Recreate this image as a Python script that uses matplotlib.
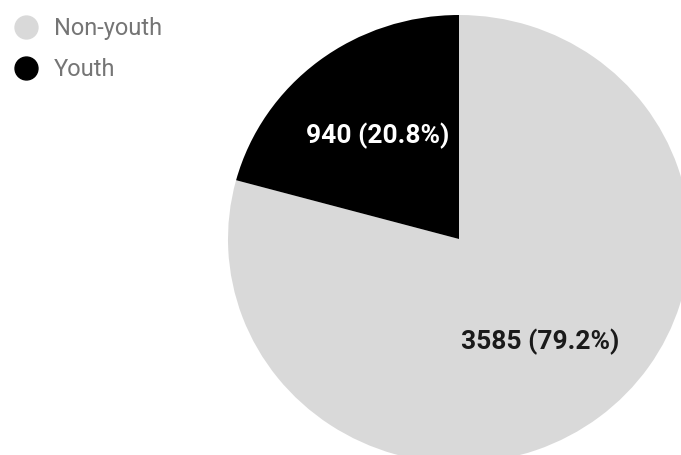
import matplotlib.pyplot as plt
from matplotlib.lines import Line2D

# datos del gráfico
labels = ['Non-youth', 'Youth']
counts = [3585, 940]
colors = ['#d9d9d9', '#000000']
text_colors = ['#1a1a1a', '#ffffff']

plt.rcParams['font.family'] = ['Roboto', 'DejaVu Sans']

W, H = 681, 455
fig = plt.figure(figsize=(W / 100, H / 100), dpi=100)
ax = fig.add_axes([0, 0, 1, 1])

total = sum(counts)
wedges, texts, autotexts = ax.pie(
    counts, colors=colors, startangle=90, counterclock=False,
    autopct=lambda p: '{:d} ({:.1f}%)'.format(int(round(p * total / 100)), p),
    pctdistance=0.58, wedgeprops=dict(linewidth=0),
    textprops=dict(fontsize=19, fontweight='bold'))
for t, c in zip(autotexts, text_colors):
    t.set_color(c)

# pie ligeramente elíptico como en la referencia
cx, cy, rx, ry = 459, 239, 231, 224
ax.set_aspect('auto')
ax.set_xlim(-cx / rx, (W - cx) / rx)
ax.set_ylim((cy - H) / ry, cy / ry)
ax.axis('off')

handles = [Line2D([], [], marker='o', linestyle='', markersize=16.5,
                  markerfacecolor=c, markeredgecolor=c) for c in colors]
ax.legend(handles, labels, loc='upper left', bbox_to_anchor=(13.5 / W, 1 - 17 / H),
          bbox_transform=fig.transFigure, frameon=False, borderpad=0,
          borderaxespad=0, handlelength=1.1, handletextpad=0.6,
          labelspacing=0.76, prop=dict(size=17), labelcolor='#757575')

fig.savefig('out.png', dpi=100)
